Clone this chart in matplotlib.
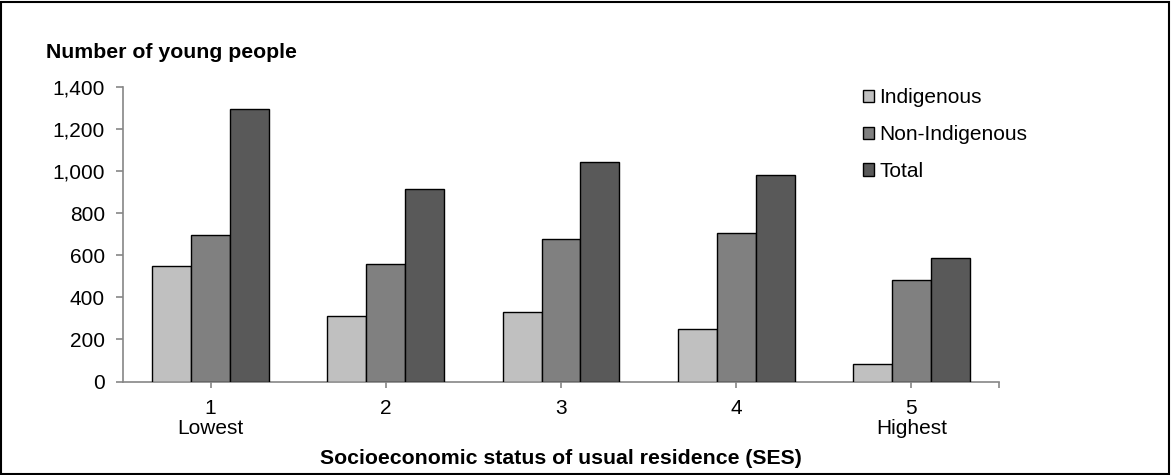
import matplotlib
matplotlib.use("Agg")
import matplotlib.pyplot as plt
import numpy as np
from matplotlib.ticker import FuncFormatter
from matplotlib.patches import Rectangle

plt.rcParams['font.family'] = ['Liberation Sans', 'DejaVu Sans']

categories = ['1\nLowest', '2', '3', '4', '5\nHighest']
indigenous = [548, 311, 330, 251, 85]
non_indigenous = [696, 558, 678, 704, 482]
total = [1294, 913, 1044, 980, 588]

series = [('Indigenous', indigenous, '#c0c0c0'),
          ('Non-Indigenous', non_indigenous, '#808080'),
          ('Total', total, '#595959')]

W, H = 1171, 475
fig = plt.figure(figsize=(W / 100, H / 100), dpi=100)
ax = fig.add_axes([123 / W, 1 - 381.5 / H, (999 - 123) / W, (381.5 - 86.7) / H])

x = np.arange(len(categories))
bw = 2 / 3 / 3
for i, (name, vals, col) in enumerate(series):
    ax.bar(x + (i - 1) * bw, vals, bw, color=col, edgecolor='black',
           linewidth=1.0, label=name, zorder=3)

ax.set_xlim(-0.5, len(categories) - 0.5)
ax.set_ylim(0, 1400)
ax.set_yticks(range(0, 1401, 200))
ax.yaxis.set_major_formatter(FuncFormatter(lambda v, p: f'{int(v):,}'))
ax.set_xticks(x)
ax.set_xticklabels(categories, linespacing=1.1)
ax.set_xticks([len(categories) - 0.5], minor=True)

for s in ['top', 'right']:
    ax.spines[s].set_visible(False)
for s in ['left', 'bottom']:
    ax.spines[s].set_color('#868686')
    ax.spines[s].set_linewidth(1.2)

ax.tick_params(axis='y', length=5, width=1.2, color='#868686', pad=8, labelsize=15)
ax.tick_params(axis='x', which='both', length=4, width=1.2, color='#868686', pad=8.5, labelsize=15)

fig.text(46 / W, 1 - 53 / H, 'Number of young people', fontsize=15.3,
         fontweight='bold', va='center', ha='left')
ax.set_xlabel('Socioeconomic status of usual residence (SES)', fontsize=15.3,
              fontweight='bold', labelpad=7.5)

leg = ax.legend(loc='upper left', bbox_to_anchor=(855 / W, 1 - 80 / H),
                bbox_transform=fig.transFigure, frameon=False, fontsize=15,
                handlelength=0.53, handleheight=0.53, handletextpad=0.23,
                labelspacing=0.85, borderaxespad=0)

fig.patches.append(Rectangle((1 / W, 1 / H), 1 - 3 / W, 1 - 3 / H,
                             transform=fig.transFigure, fill=False,
                             edgecolor='black', linewidth=1.5))

fig.savefig('out.png', dpi=100)
